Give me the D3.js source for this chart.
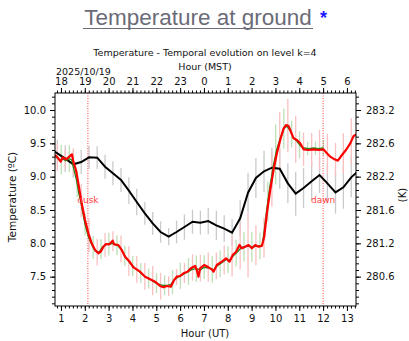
<!DOCTYPE html>
<html>
<head>
<meta charset="utf-8">
<script src="https://cdn.jsdelivr.net/npm/d3@7"></script>
<style>
  body { margin: 0; background: #fff; }
  svg { display: block; }
</style>
</head>
<body>
<div id="myPlot"></div>
<script>
// --- data (hours UT, degrees C) ---
const utTicks = [1, 2, 3, 4, 5, 6, 7, 8, 9, 10, 11, 12, 13];
const mstLabels = ['18', '19', '20', '21', '22', '23', '0', '1', '2', '3', '4', '5', '6'];
const celsiusTicks = [7.5, 8.0, 8.5, 9.0, 9.5, 10.0];
const kelvinLabels = ['280.6', '281.2', '281.6', '282.2', '282.6', '283.2'];

const blackT = [0.52, 0.85, 1.18, 1.52, 1.85, 2.18, 2.52, 2.85, 3.18, 3.52, 3.85, 4.18, 4.52, 4.85,
  5.18, 5.52, 5.85, 6.18, 6.52, 6.85, 7.18, 7.52, 7.85, 8.18, 8.52, 8.85, 9.18, 9.52, 9.85,
  10.18, 10.52, 10.85, 11.18, 11.52, 11.85, 12.18, 12.52, 12.85, 13.18, 13.52];
const blackC = [9.42, 9.35, 9.27, 9.185, 9.22, 9.29, 9.285, 9.15, 9.05, 8.95, 8.79, 8.62, 8.45, 8.30,
  8.17, 8.10, 8.17, 8.245, 8.325, 8.31, 8.335, 8.27, 8.22, 8.16, 8.375, 8.76, 8.98, 9.08, 9.135,
  9.12, 8.90, 8.745, 8.83, 8.93, 9.025, 8.90, 8.765, 8.84, 8.99, 9.10];
const grayHalf = [0.2, 0.2, 0.2, 0.2, 0.18, 0.17, 0.17, 0.18, 0.18, 0.18, 0.2, 0.2, 0.17, 0.17,
  0.16, 0.13, 0.17, 0.19, 0.18, 0.18, 0.2, 0.22, 0.2, 0.2, 0.27, 0.3, 0.3, 0.31, 0.3,
  0.3, 0.3, 0.33, 0.3, 0.28, 0.27, 0.3, 0.32, 0.32, 0.3, 0.3];
const pinkHalf = [0.2, 0.2, 0.15, 0.2, 0.25, 0.25, 0.2, 0.18, 0.15, 0.2, 0.22, 0.2, 0.2, 0.22,
  0.2, 0.15, 0.12, 0.15, 0.2, 0.2, 0.22, 0.2, 0.22, 0.3, 0.35, 0.48, 0.3, 0.3, 0.4,
  0.45, 0.4, 0.35, 0.25, 0.25, 0.3, 0.3, 0.25, 0.3, 0.35, 0.3];

const redT = [0.75, 0.89, 0.99, 1.07, 1.21, 1.35, 1.46, 1.52, 1.63, 1.73, 1.87, 2.01, 2.15, 2.29,
  2.43, 2.57, 2.67, 2.78, 2.89, 3.03, 3.17, 3.23, 3.41, 3.55, 3.69, 3.90, 4.04, 4.11, 4.32,
  4.53, 4.74, 4.95, 5.16, 5.30, 5.44, 5.61, 5.75, 5.86, 6.00, 6.14, 6.31, 6.45, 6.63, 6.70,
  6.77, 6.84, 7.01, 7.19, 7.33, 7.40, 7.54, 7.75, 7.93, 8.07, 8.21, 8.35, 8.49, 8.59, 8.73,
  8.87, 9.01, 9.15, 9.29, 9.43, 9.53, 9.64, 9.78, 9.92, 10.06, 10.20, 10.34, 10.45, 10.55,
  10.62, 10.76, 10.90, 11.04, 11.18, 11.39, 11.60, 11.81, 12.02, 12.16, 12.30, 12.48, 12.62,
  12.79, 12.96, 13.14, 13.28, 13.42];
const redC = [9.325, 9.275, 9.225, 9.29, 9.26, 9.30, 9.335, 9.225, 9.10, 8.90, 8.60, 8.35, 8.15, 8.00,
  7.90, 7.85, 7.875, 7.95, 7.99, 7.985, 8.04, 7.985, 7.975, 7.90, 7.80, 7.715, 7.64, 7.625, 7.575,
  7.50, 7.46, 7.425, 7.36, 7.34, 7.36, 7.35, 7.45, 7.50, 7.51, 7.55, 7.575, 7.625, 7.66, 7.60,
  7.50, 7.625, 7.675, 7.64, 7.61, 7.575, 7.675, 7.725, 7.775, 7.725, 7.825, 7.875, 7.975, 7.925, 7.95,
  7.975, 7.925, 7.975, 7.95, 7.96, 8.10, 8.45, 8.80, 9.10, 9.35, 9.55, 9.72, 9.775, 9.76,
  9.70, 9.575, 9.55, 9.50, 9.41, 9.40, 9.41, 9.40, 9.41, 9.35, 9.30, 9.26, 9.24,
  9.325, 9.40, 9.50, 9.61, 9.635];

const greenT = [0.75, 0.85, 0.95, 1.05, 1.2, 1.35, 1.45, 1.55, 1.65, 1.75, 1.87, 2.0, 2.15, 2.3,
  2.45, 2.6, 2.75, 2.9, 3.05, 3.2, 3.4, 3.55, 3.7, 3.9, 4.1, 4.3, 4.5, 4.75, 4.95, 5.15, 5.3,
  5.45, 5.6, 5.75, 5.9, 6.05, 6.2, 6.35, 6.5, 6.7, 6.85, 7.0, 7.2, 7.4, 7.55, 7.75, 7.95, 8.1,
  8.25, 8.4, 8.55, 8.7, 8.9, 9.05, 9.2, 9.35, 9.45, 9.55, 9.65, 9.78, 9.92, 10.05, 10.2, 10.35,
  10.48, 10.6, 10.75, 10.9, 11.05, 11.2, 11.4, 11.6, 11.8, 12.02];
const greenC = [9.30, 9.28, 9.24, 9.27, 9.24, 9.27, 9.25, 9.10, 8.95, 8.75, 8.55, 8.30, 8.10, 7.97,
  7.88, 7.87, 7.95, 7.98, 7.99, 8.00, 7.96, 7.90, 7.80, 7.70, 7.63, 7.57, 7.51, 7.46, 7.41, 7.38, 7.37,
  7.37, 7.38, 7.45, 7.49, 7.52, 7.55, 7.58, 7.61, 7.62, 7.60, 7.64, 7.63, 7.60, 7.66, 7.71, 7.76, 7.75,
  7.82, 7.87, 7.93, 7.95, 7.96, 7.94, 7.96, 7.96, 7.98, 8.25, 8.55, 8.88, 9.18, 9.40, 9.58, 9.72,
  9.76, 9.70, 9.59, 9.53, 9.46, 9.43, 9.42, 9.43, 9.42, 9.43];
const greenBarT = [0.68, 1.01, 1.35, 1.68, 2.01, 2.35, 2.68, 3.01, 3.35, 3.68, 4.01, 4.35, 4.68, 5.01,
  5.35, 5.68, 6.01, 6.35, 6.68, 7.01, 7.35, 7.68, 8.01, 8.35, 8.68, 9.01, 9.35, 9.68, 10.01,
  10.35, 10.68, 11.01, 11.35, 11.68, 12.01];
const greenHalf = [0.2, 0.22, 0.2, 0.2, 0.17, 0.17, 0.15, 0.17, 0.15, 0.15, 0.15, 0.15, 0.15, 0.15,
  0.15, 0.18, 0.2, 0.2, 0.2, 0.18, 0.2, 0.2, 0.2, 0.2, 0.22, 0.22, 0.2, 0.3, 0.45,
  0.3, 0.2, 0.2, 0.1, 0.1, 0.12];

const duskUT = 2.13;
const dawnUT = 12.0;

// --- layout ---
const W = 409, H = 341;
const margin = {left: 55, right: 356, top: 93, bottom: 306};
const font = 'DejaVu Sans, sans-serif';

const svg = d3.select('#myPlot').append('svg')
  .attr('width', W).attr('height', H);

const x = d3.scaleLinear().domain([0.75, 13.38]).range([margin.left, margin.right]);
const y = d3.scaleLinear().domain([7.06, 10.255]).range([margin.bottom, margin.top]);

function interp(ts, vs, t) {
  const i = Math.max(1, Math.min(ts.length - 1, d3.bisectLeft(ts, t)));
  const f = (t - ts[i - 1]) / (ts[i] - ts[i - 1]);
  return vs[i - 1] + f * (vs[i] - vs[i - 1]);
}

// page title
svg.append('text')
  .attr('x', 198).attr('y', 25)
  .attr('text-anchor', 'middle')
  .style('font-family', 'Liberation Sans, Arial, sans-serif')
  .style('font-size', '22.5px')
  .style('fill', '#6b6b78')
  .text('Temperature at ground');
svg.append('line')
  .attr('x1', 83).attr('x2', 313).attr('y1', 28.5).attr('y2', 28.5)
  .attr('stroke', '#6b6b78').attr('stroke-width', 1);
svg.append('text')
  .attr('x', 320).attr('y', 24)
  .style('font-family', 'Liberation Sans, Arial, sans-serif')
  .style('font-size', '18px')
  .style('font-weight', 'bold')
  .style('fill', '#1a1aff')
  .text('*');

// chart titles
svg.append('text')
  .attr('x', 205).attr('y', 56)
  .attr('text-anchor', 'middle')
  .style('font-family', font).style('font-size', '9.5px').style('fill', '#111')
  .text('Temperature - Temporal evolution on level k=4');
svg.append('text')
  .attr('x', 205).attr('y', 70)
  .attr('text-anchor', 'middle')
  .style('font-family', font).style('font-size', '9.5px').style('fill', '#111')
  .text('Hour (MST)');
svg.append('text')
  .attr('x', 56).attr('y', 75)
  .style('font-family', font).style('font-size', '9.5px').style('fill', '#111')
  .text('2025/10/19');

// clip
svg.append('clipPath').attr('id', 'clip')
  .append('rect').attr('x', margin.left).attr('y', margin.top)
  .attr('width', margin.right - margin.left).attr('height', margin.bottom - margin.top);
const plot = svg.append('g').attr('clip-path', 'url(#clip)');

// error bars
plot.selectAll('line.gray')
  .data(blackT)
  .enter().append('line')
  .attr('x1', d => x(d)).attr('x2', d => x(d))
  .attr('y1', (d, i) => y(blackC[i] - grayHalf[i]))
  .attr('y2', (d, i) => y(blackC[i] + grayHalf[i]))
  .attr('stroke', '#cacace').attr('stroke-width', 1.3);

plot.selectAll('line.greenbar')
  .data(greenBarT)
  .enter().append('line')
  .attr('x1', d => x(d)).attr('x2', d => x(d))
  .attr('y1', (d, i) => y(interp(greenT, greenC, d) - greenHalf[i]))
  .attr('y2', (d, i) => y(interp(greenT, greenC, d) + greenHalf[i]))
  .attr('stroke', '#bde0b6').attr('stroke-width', 1.3);

plot.selectAll('line.pink')
  .data(blackT)
  .enter().append('line')
  .attr('x1', d => x(d)).attr('x2', d => x(d))
  .attr('y1', (d, i) => y(interp(redT, redC, d) - pinkHalf[i]))
  .attr('y2', (d, i) => y(interp(redT, redC, d) + pinkHalf[i]))
  .attr('stroke', '#f8c0c0').attr('stroke-width', 1.3);

// dusk / dawn
[duskUT, dawnUT].forEach(t => {
  plot.append('line')
    .attr('x1', x(t)).attr('x2', x(t)).attr('y1', margin.top).attr('y2', margin.bottom)
    .attr('stroke', '#ff4040').attr('stroke-width', 1)
    .attr('stroke-dasharray', '1,1.5');
});
svg.append('text')
  .attr('x', x(duskUT)).attr('y', y(8.65)).attr('dy', '0.35em')
  .attr('text-anchor', 'middle')
  .style('font-family', font).style('font-size', '9px').style('fill', '#ff4040')
  .text('dusk');
svg.append('text')
  .attr('x', x(dawnUT)).attr('y', y(8.65)).attr('dy', '0.35em')
  .attr('text-anchor', 'middle')
  .style('font-family', font).style('font-size', '9px').style('fill', '#ff4040')
  .text('dawn');

// lines
const line = d3.line().x(d => x(d[0])).y(d => y(d[1]));
plot.append('path')
  .datum(blackT.map((t, i) => [t, blackC[i]]))
  .attr('d', line).attr('fill', 'none')
  .attr('stroke', '#000').attr('stroke-width', 2);
plot.append('path')
  .datum(greenT.map((t, i) => [t, greenC[i]]))
  .attr('d', line).attr('fill', 'none')
  .attr('stroke', '#1a8a1a').attr('stroke-width', 1.3);
plot.append('path')
  .datum(redT.map((t, i) => [t, redC[i]]))
  .attr('d', line).attr('fill', 'none')
  .attr('stroke', '#ff0000').attr('stroke-width', 2.2)
  .attr('stroke-linejoin', 'round');

// axes
function styleAxis(g) {
  g.select('.domain').remove();
  g.selectAll('text').style('font-family', font).style('font-size', '10px').style('fill', '#111');
  g.selectAll('line').attr('stroke', '#000');
}
const minorY = d3.range(71, 103).map(d => d / 10);
const minorX = d3.range(5, 81).map(d => d / 6).filter(d => d >= 0.75 && d <= 13.38);

svg.append('g').attr('transform', `translate(${margin.left},0)`)
  .call(d3.axisLeft(y).tickValues(minorY).tickSize(3).tickFormat(''))
  .call(styleAxis);
svg.append('g').attr('transform', `translate(${margin.left},0)`)
  .call(d3.axisLeft(y).tickValues(celsiusTicks).tickSize(5).tickPadding(4).tickFormat(d3.format('.1f')))
  .call(styleAxis);

svg.append('g').attr('transform', `translate(${margin.right},0)`)
  .call(d3.axisRight(y).tickValues(minorY).tickSize(3).tickFormat(''))
  .call(styleAxis);
svg.append('g').attr('transform', `translate(${margin.right},0)`)
  .call(d3.axisRight(y).tickValues(celsiusTicks).tickSize(5).tickPadding(5)
    .tickFormat((d, i) => kelvinLabels[i]))
  .call(styleAxis);

svg.append('g').attr('transform', `translate(0,${margin.bottom})`)
  .call(d3.axisBottom(x).tickValues(minorX).tickSize(2.5).tickFormat(''))
  .call(styleAxis);
svg.append('g').attr('transform', `translate(0,${margin.bottom})`)
  .call(d3.axisBottom(x).tickValues(utTicks).tickSize(5).tickPadding(4).tickFormat(d3.format('d')))
  .call(styleAxis);

svg.append('g').attr('transform', `translate(0,${margin.top})`)
  .call(d3.axisTop(x).tickValues(minorX).tickSize(2.5).tickFormat(''))
  .call(styleAxis);
svg.append('g').attr('transform', `translate(0,${margin.top})`)
  .call(d3.axisTop(x).tickValues(utTicks).tickSize(5).tickPadding(3)
    .tickFormat((d, i) => mstLabels[i]))
  .call(styleAxis);

// frame
svg.append('rect')
  .attr('x', margin.left).attr('y', margin.top)
  .attr('width', margin.right - margin.left).attr('height', margin.bottom - margin.top)
  .attr('fill', 'none').attr('stroke', '#000').attr('stroke-width', 1);

// axis labels
svg.append('text')
  .attr('transform', 'translate(12,197) rotate(-90)')
  .attr('dy', '0.35em')
  .attr('text-anchor', 'middle')
  .style('font-family', font).style('font-size', '10.5px').style('fill', '#111')
  .text('Temperature (ºC)');
svg.append('text')
  .attr('x', 205).attr('y', 337)
  .attr('text-anchor', 'middle')
  .style('font-family', font).style('font-size', '10px').style('fill', '#111')
  .text('Hour (UT)');
svg.append('text')
  .attr('transform', 'translate(402,195) rotate(-90)')
  .attr('dy', '0.35em')
  .attr('text-anchor', 'middle')
  .style('font-family', font).style('font-size', '10px').style('fill', '#111')
  .text('(K)');
</script>
</body>
</html>
